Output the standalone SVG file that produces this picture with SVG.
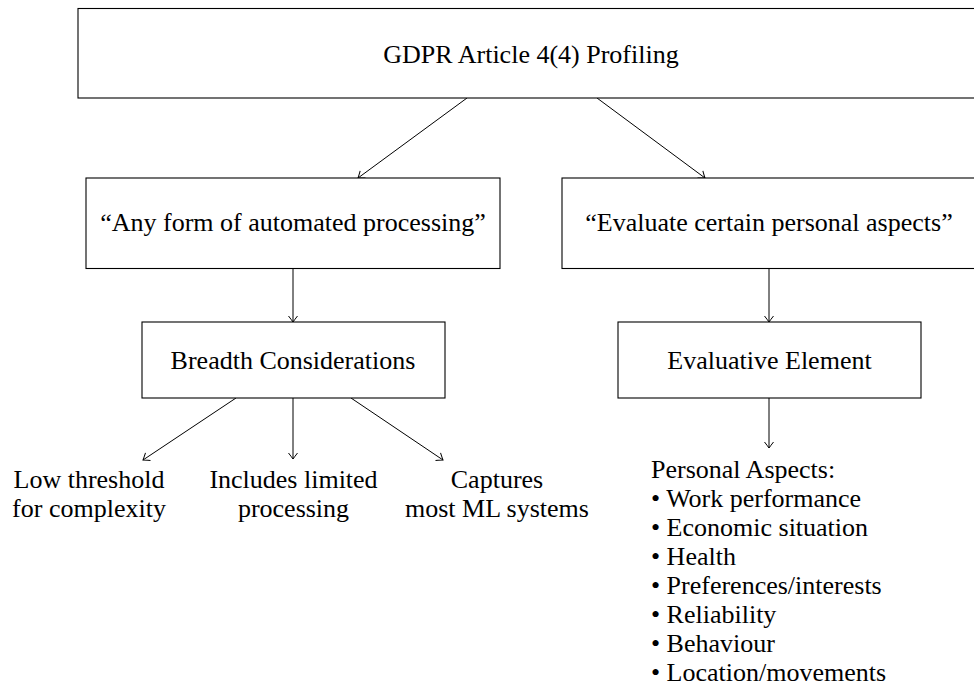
<svg xmlns="http://www.w3.org/2000/svg" width="974" height="688" viewBox="0 0 974 688">
<style>
  .box { fill: #fff; stroke: #000; stroke-width: 1.1; }
  .t { font-family: "Liberation Serif", "Times New Roman", serif; font-size: 26px; fill: #000; }
  .c { text-anchor: middle; }
  .edge { fill: none; stroke: #000; stroke-width: 1; marker-end: url(#arr); }
</style>
<defs>
  <marker id="arr" markerUnits="userSpaceOnUse" viewBox="-8 -6 10 12" markerWidth="10" markerHeight="12" refX="0" refY="0" orient="auto" overflow="visible">
    <path d="M-6,-4.5 Q-1.5,-1 0,0 Q-1.5,1 -6,4.5" fill="none" stroke="#000" stroke-width="1"/>
  </marker>
</defs>
<rect width="974" height="688" fill="#fff"/>
<g id="connectors">
  <path class="edge" d="M467,98 L358,178"/>
  <path class="edge" d="M597,98 L705,178"/>
  <path class="edge" d="M293,268.5 L293,322"/>
  <path class="edge" d="M769,268.5 L769,322"/>
  <path class="edge" d="M236,398 L143,460"/>
  <path class="edge" d="M293,398 L293,459"/>
  <path class="edge" d="M351,398 L443,460"/>
  <path class="edge" d="M769,398 L769,448"/>
</g>
<g id="root">
  <rect class="box" x="78" y="8.5" width="906" height="89.5"/>
  <text class="t c" x="531" y="63">GDPR Article 4(4) Profiling</text>
</g>
<g id="automated">
  <rect class="box" x="86" y="178" width="414" height="90.5"/>
  <text class="t c" x="293" y="231">“Any form of automated processing”</text>
</g>
<g id="evaluate">
  <rect class="box" x="562" y="178" width="414" height="90.5"/>
  <text class="t c" x="769" y="231">“Evaluate certain personal aspects”</text>
</g>
<g id="breadth">
  <rect class="box" x="142" y="322" width="303" height="76"/>
  <text class="t c" x="293" y="369">Breadth Considerations</text>
</g>
<g id="evaluative">
  <rect class="box" x="618" y="322" width="303" height="76"/>
  <text class="t c" x="769.5" y="369">Evaluative Element</text>
</g>
<g id="low-threshold">
  <text class="t c" x="89" y="488">Low threshold</text>
  <text class="t c" x="89" y="517">for complexity</text>
</g>
<g id="limited">
  <text class="t c" x="293.5" y="488">Includes limited</text>
  <text class="t c" x="293.5" y="517">processing</text>
</g>
<g id="captures">
  <text class="t c" x="497" y="488">Captures</text>
  <text class="t c" x="497" y="517">most ML systems</text>
</g>
<g id="aspects">
  <text class="t" x="651" y="477.5">Personal Aspects:</text>
  <text class="t" x="651" y="506.5">• Work performance</text>
  <text class="t" x="651" y="535.5">• Economic situation</text>
  <text class="t" x="651" y="564.5">• Health</text>
  <text class="t" x="651" y="593.5">• Preferences/interests</text>
  <text class="t" x="651" y="622.5">• Reliability</text>
  <text class="t" x="651" y="651.5">• Behaviour</text>
  <text class="t" x="651" y="680.5">• Location/movements</text>
</g>
</svg>
